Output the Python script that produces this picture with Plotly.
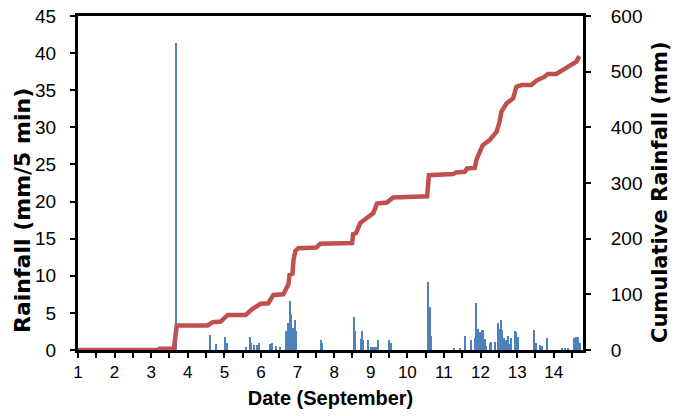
import plotly.graph_objects as go

# Rainfall intensity (mm/5 min) events: day of September, value
rain_days = [3.69, 4.60, 4.78, 5.03, 5.06, 5.58, 5.70, 5.73, 5.80, 5.90, 5.96,
             6.26, 6.31, 6.40, 6.53, 6.69, 6.73, 6.79, 6.83, 6.89, 6.93, 6.97,
             7.65, 7.68, 8.53, 8.57, 8.74, 8.77, 8.80, 8.92, 9.00, 9.05, 9.10,
             9.15, 9.20, 9.50, 9.56, 10.57, 10.62, 10.64, 11.27, 11.45, 11.59,
             11.73, 11.85, 11.89, 11.94, 12.00, 12.04, 12.07, 12.12, 12.16,
             12.25, 12.30, 12.41, 12.48, 12.53, 12.57, 12.60, 12.63, 12.71,
             12.75, 12.80, 12.84, 12.93, 12.96, 13.02, 13.46, 13.51, 13.62,
             13.68, 13.83, 14.24, 14.32, 14.40, 14.55, 14.62, 14.67, 14.71]
rain_vals = [41.3, 2.0, 0.8, 1.75, 0.9, 0.4, 1.75, 0.9, 0.7, 0.7, 0.9,
             0.75, 1.0, 0.6, 0.4, 2.55, 3.7, 6.6, 4.8, 3.0, 4.0, 2.5,
             1.3, 0.9, 4.4, 2.5, 1.5, 2.6, 1.3, 1.3, 0.45, 0.45, 0.45,
             0.45, 1.3, 1.3, 1.0, 9.1, 5.8, 1.9, 0.3, 0.3, 1.9,
             1.3, 1.6, 6.3, 2.8, 2.4, 2.7, 2.7, 1.5, 0.6,
             1.0, 1.1, 1.1, 3.6, 2.8, 4.0, 2.7, 1.6, 1.3,
             1.9, 0.8, 1.6, 2.5, 2.4, 1.7, 2.7, 1.0, 0.7,
             0.5, 1.6, 0.3, 0.3, 0.3, 1.6, 1.7, 1.75, 1.0]

# Cumulative rainfall (mm)
cum_days = [1.0, 3.18, 3.23, 3.62, 3.70, 4.54, 4.68, 4.90, 5.09, 5.58, 5.77,
            5.99, 6.20, 6.34, 6.61, 6.69, 6.75, 6.78, 6.86, 6.89, 6.94, 7.02,
            7.51, 7.62, 8.49, 8.52, 8.60, 8.71, 8.89, 9.07, 9.17, 9.44, 9.61,
            10.54, 10.59, 11.25, 11.33, 11.57, 11.63, 11.84, 11.90, 12.06,
            12.25, 12.44, 12.52, 12.57, 12.71, 12.89, 12.98, 13.12, 13.39,
            13.53, 13.75, 13.84, 14.07, 14.25, 14.43, 14.62, 14.70]
cum_vals = [0, 0, 2.4, 2.4, 44, 44, 50, 51, 63, 63, 74,
            83, 84, 99, 100, 113, 118, 135, 137, 162, 178, 183,
            184, 191, 192, 208, 210, 228, 237, 246, 263, 265, 274,
            276, 314, 316, 319, 320, 326, 327, 344, 368,
            377, 392, 410, 428, 443, 452, 473, 476, 476,
            484, 491, 496, 496, 503, 509, 518, 528]

x_tick_vals = list(range(1, 15))
x_tick_text = [str(v) for v in x_tick_vals]

FONT = "Liberation Sans, Arial, sans-serif"
VFONT = "DejaVu Sans, Liberation Sans, sans-serif"

fig = go.Figure()
fig.add_trace(go.Bar(x=rain_days, y=rain_vals, width=0.03,
                     marker=dict(color="#4F81BD", line=dict(width=0)),
                     yaxis="y"))
fig.add_trace(go.Scatter(x=cum_days, y=cum_vals, mode="lines",
                         line=dict(color="#C0504D", width=4.5),
                         yaxis="y2"))

axis_common = dict(showgrid=False, zeroline=False, showline=True,
                   linecolor="black", linewidth=3, ticks="outside",
                   tickcolor="black", tickwidth=2, ticklen=5,
                   automargin=False)

fig.update_layout(
    width=678, height=416,
    margin=dict(l=78, r=95, t=16, b=66),
    paper_bgcolor="white", plot_bgcolor="white",
    showlegend=False, bargap=0,
    xaxis=dict(range=[1, 14.8], tickvals=x_tick_vals, ticktext=x_tick_text,
               mirror=True,
               minor=dict(dtick=0.5, tick0=1, ticks="outside", ticklen=5,
                          tickwidth=2, tickcolor="black"),
               tickfont=dict(family=FONT, size=17, color="black"),
               ticklabelstandoff=0,
               title=dict(text="<b>Date (September)</b>",
                          font=dict(family=FONT, size=20, color="black"),
                          standoff=10),
               **axis_common),
    yaxis=dict(range=[0, 45], dtick=5,
               tickfont=dict(family=FONT, size=19, color="black"),
               ticklabelstandoff=10,
               **axis_common),
    yaxis2=dict(range=[0, 600], dtick=100, overlaying="y", side="right",
                tickfont=dict(family=FONT, size=19, color="black"),
                ticklabelstandoff=16,
                **axis_common),
    annotations=[
        dict(text="<b>Rainfall (mm/5 min)</b>", textangle=-90,
             xref="paper", yref="paper", x=-0.111, y=0.419,
             xanchor="center", yanchor="middle", showarrow=False,
             font=dict(family=VFONT, size=22, color="black")),
        dict(text="<b>Cumulative Rainfall (mm)</b>", textangle=-90,
             xref="paper", yref="paper", x=1.1525, y=0.473,
             xanchor="center", yanchor="middle", showarrow=False,
             font=dict(family=VFONT, size=21, color="black")),
    ],
)

fig.write_html("out.html")
